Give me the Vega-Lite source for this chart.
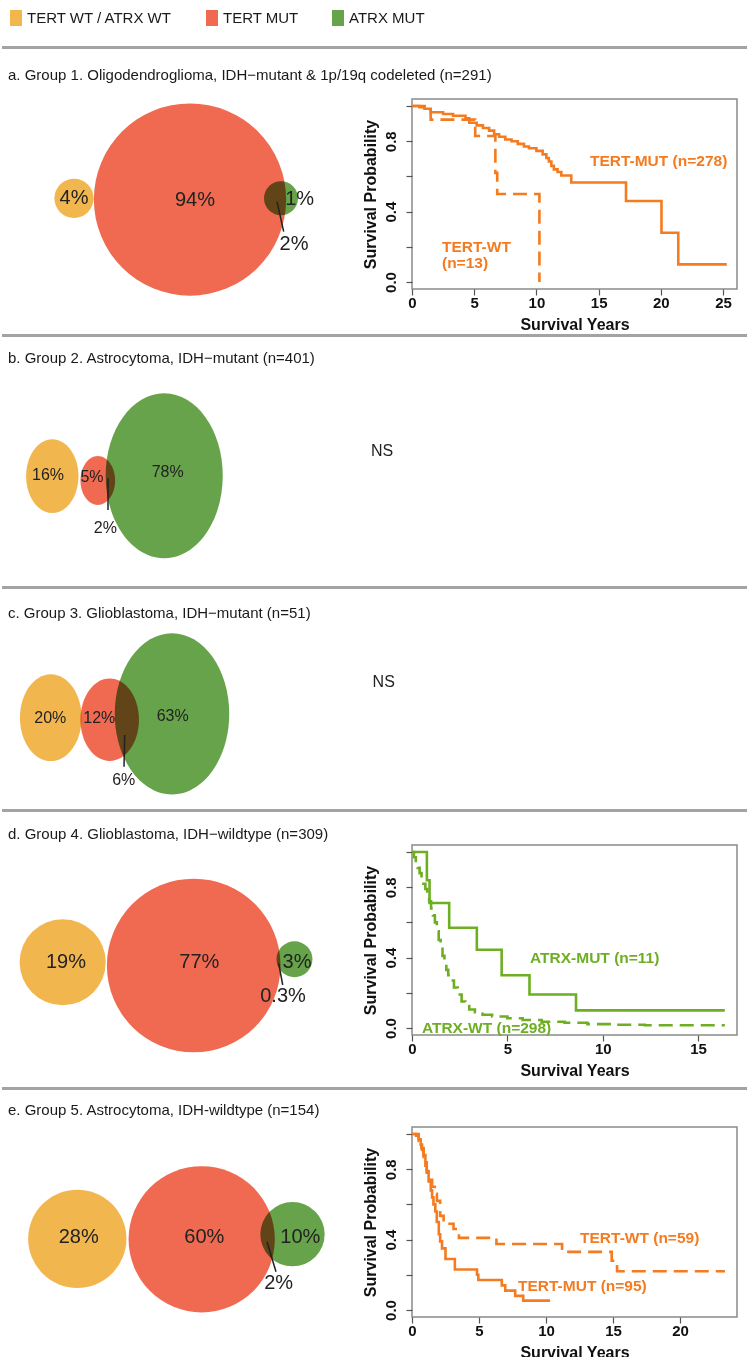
{
  "$schema": "https://vega.github.io/schema/vega-lite/v6.json",
  "padding": 0,
  "background": "white",
  "spacing": 0,
  "align": "each",
  "resolve": {"scale": {"size": "independent"}},
  "config": {
    "view": {"stroke": null},
    "font": "Liberation Sans",
    "title": {"anchor": "start", "frame": "group", "baseline": "alphabetic", "font": "Liberation Sans", "fontSize": 15, "fontWeight": "normal", "color": "#1a1a1a", "dx": 6},
    "legend": {"orient": "none", "legendX": 6, "legendY": 10, "direction": "horizontal", "padding": 0, "symbolSize": 256, "symbolStrokeWidth": 0, "symbolOpacity": 1, "labelFont": "Liberation Sans", "labelFontSize": 15, "labelColor": "#1a1a1a", "labelOffset": 3, "columnPadding": 31, "labelLimit": 400},
    "axis": {"domain": false, "grid": false, "tickColor": "#555555", "tickSize": 6, "tickWidth": 1.2, "labelFont": "Liberation Sans", "labelFontWeight": "bold", "labelFontSize": 15, "labelColor": "#111111", "titleFont": "Liberation Sans", "titleFontWeight": "bold", "titleFontSize": 16, "titleColor": "#111111"},
    "axisX": {"labelPadding": 0, "titlePadding": 6, "labelFlush": false, "labelOverlap": false},
    "axisY": {"labelAngle": -90, "labelAlign": "center", "labelBaseline": "bottom", "labelPadding": 8, "titlePadding": 4, "labelOverlap": false, "minExtent": 30, "maxExtent": 30}
  },
  "datasets": {
    "venn": [
      {"p": "a", "kind": "set", "set": "TERT WT / ATRX WT", "pct": 4, "x": 7.2, "y": 14.93},
      {"p": "a", "kind": "set", "set": "TERT MUT", "pct": 96, "x": 18.8, "y": 15.05},
      {"p": "a", "kind": "set", "set": "ATRX MUT", "pct": 3, "x": 27.9, "y": 14.93},
      {"p": "a", "kind": "label", "label": "4%", "x": 7.2, "y": 14.9},
      {"p": "a", "kind": "label", "label": "94%", "x": 19.3, "y": 15.1},
      {"p": "a", "kind": "label", "label": "1%", "x": 29.77, "y": 15.0},
      {"p": "a", "kind": "label", "label": "2%", "x": 29.2, "y": 19.5},
      {"p": "a", "kind": "leader", "x": 27.5, "y": 15.27, "x2": 28.17, "y2": 18.27},
      {"p": "b", "kind": "set", "set": "TERT WT / ATRX WT", "pct": 16, "x": 5.03, "y": 13.92},
      {"p": "b", "kind": "set", "set": "TERT MUT", "pct": 7, "x": 9.58, "y": 14.35},
      {"p": "b", "kind": "set", "set": "ATRX MUT", "pct": 80, "x": 16.22, "y": 13.88},
      {"p": "b", "kind": "label", "label": "16%", "x": 4.6, "y": 13.8},
      {"p": "b", "kind": "label", "label": "5%", "x": 9.0, "y": 13.97},
      {"p": "b", "kind": "label", "label": "78%", "x": 16.57, "y": 13.47},
      {"p": "b", "kind": "label", "label": "2%", "x": 10.33, "y": 19.13},
      {"p": "b", "kind": "label", "label": "NS", "x": 38.0, "y": 11.4},
      {"p": "b", "kind": "leader", "x": 10.6, "y": 14.13, "x2": 10.6, "y2": 17.3},
      {"p": "c", "kind": "set", "set": "TERT WT / ATRX WT", "pct": 20, "x": 4.88, "y": 12.87},
      {"p": "c", "kind": "set", "set": "TERT MUT", "pct": 18, "x": 10.77, "y": 13.07},
      {"p": "c", "kind": "set", "set": "ATRX MUT", "pct": 69, "x": 17.0, "y": 12.48},
      {"p": "c", "kind": "label", "label": "20%", "x": 4.83, "y": 12.93},
      {"p": "c", "kind": "label", "label": "12%", "x": 9.73, "y": 12.93},
      {"p": "c", "kind": "label", "label": "63%", "x": 17.07, "y": 12.7},
      {"p": "c", "kind": "label", "label": "6%", "x": 12.17, "y": 19.1},
      {"p": "c", "kind": "label", "label": "NS", "x": 38.17, "y": 9.27},
      {"p": "c", "kind": "leader", "x": 12.27, "y": 14.6, "x2": 12.2, "y2": 17.77},
      {"p": "d", "kind": "set", "set": "TERT WT / ATRX WT", "pct": 19, "x": 6.07, "y": 15.02},
      {"p": "d", "kind": "set", "set": "TERT MUT", "pct": 77.3, "x": 19.17, "y": 15.35},
      {"p": "d", "kind": "set", "set": "ATRX MUT", "pct": 3.3, "x": 29.25, "y": 14.72},
      {"p": "d", "kind": "label", "label": "19%", "x": 6.4, "y": 14.97},
      {"p": "d", "kind": "label", "label": "77%", "x": 19.73, "y": 14.97},
      {"p": "d", "kind": "label", "label": "3%", "x": 29.5, "y": 14.97},
      {"p": "d", "kind": "label", "label": "0.3%", "x": 28.1, "y": 18.4},
      {"p": "d", "kind": "leader", "x": 27.67, "y": 15.13, "x2": 28.07, "y2": 17.3},
      {"p": "e", "kind": "set", "set": "TERT WT / ATRX WT", "pct": 28, "x": 7.53, "y": 14.88},
      {"p": "e", "kind": "set", "set": "TERT MUT", "pct": 62, "x": 19.97, "y": 14.93},
      {"p": "e", "kind": "set", "set": "ATRX MUT", "pct": 12, "x": 29.05, "y": 14.42},
      {"p": "e", "kind": "label", "label": "28%", "x": 7.67, "y": 14.73},
      {"p": "e", "kind": "label", "label": "60%", "x": 20.23, "y": 14.73},
      {"p": "e", "kind": "label", "label": "10%", "x": 29.83, "y": 14.67},
      {"p": "e", "kind": "label", "label": "2%", "x": 27.67, "y": 19.33},
      {"p": "e", "kind": "leader", "x": 26.5, "y": 15.17, "x2": 27.4, "y2": 18.17}
    ],
    "km": [
      {"p": "a", "status": "MUT", "t": 0, "s": 1.0},
      {"p": "a", "status": "MUT", "t": 0.6, "s": 0.993},
      {"p": "a", "status": "MUT", "t": 1.0, "s": 0.985},
      {"p": "a", "status": "MUT", "t": 1.5, "s": 0.965},
      {"p": "a", "status": "MUT", "t": 2.5, "s": 0.955},
      {"p": "a", "status": "MUT", "t": 3.3, "s": 0.945},
      {"p": "a", "status": "MUT", "t": 4.3, "s": 0.93},
      {"p": "a", "status": "MUT", "t": 4.6, "s": 0.905},
      {"p": "a", "status": "MUT", "t": 5.2, "s": 0.89},
      {"p": "a", "status": "MUT", "t": 5.7, "s": 0.875},
      {"p": "a", "status": "MUT", "t": 6.2, "s": 0.86},
      {"p": "a", "status": "MUT", "t": 6.6, "s": 0.84},
      {"p": "a", "status": "MUT", "t": 7.0, "s": 0.825},
      {"p": "a", "status": "MUT", "t": 7.5, "s": 0.81},
      {"p": "a", "status": "MUT", "t": 8.0, "s": 0.8},
      {"p": "a", "status": "MUT", "t": 8.5, "s": 0.785},
      {"p": "a", "status": "MUT", "t": 9.0, "s": 0.77},
      {"p": "a", "status": "MUT", "t": 9.4, "s": 0.76},
      {"p": "a", "status": "MUT", "t": 10.0, "s": 0.745},
      {"p": "a", "status": "MUT", "t": 10.5, "s": 0.725},
      {"p": "a", "status": "MUT", "t": 10.8, "s": 0.705},
      {"p": "a", "status": "MUT", "t": 11.0, "s": 0.685},
      {"p": "a", "status": "MUT", "t": 11.2, "s": 0.66},
      {"p": "a", "status": "MUT", "t": 11.4, "s": 0.64},
      {"p": "a", "status": "MUT", "t": 11.7, "s": 0.625},
      {"p": "a", "status": "MUT", "t": 12.0, "s": 0.605},
      {"p": "a", "status": "MUT", "t": 12.8, "s": 0.565},
      {"p": "a", "status": "MUT", "t": 17.2, "s": 0.46},
      {"p": "a", "status": "MUT", "t": 20.05, "s": 0.28},
      {"p": "a", "status": "MUT", "t": 21.4, "s": 0.1},
      {"p": "a", "status": "MUT", "t": 25.3, "s": 0.1},
      {"p": "a", "status": "WT", "t": 0, "s": 1.0},
      {"p": "a", "status": "WT", "t": 1.5, "s": 0.923},
      {"p": "a", "status": "WT", "t": 5.08, "s": 0.83},
      {"p": "a", "status": "WT", "t": 6.7, "s": 0.62},
      {"p": "a", "status": "WT", "t": 6.85, "s": 0.5},
      {"p": "a", "status": "WT", "t": 10.24, "s": 0.0},
      {"p": "d", "status": "MUT", "t": 0, "s": 1.0},
      {"p": "d", "status": "MUT", "t": 0.78, "s": 0.84},
      {"p": "d", "status": "MUT", "t": 0.92, "s": 0.71},
      {"p": "d", "status": "MUT", "t": 1.95, "s": 0.57},
      {"p": "d", "status": "MUT", "t": 3.4, "s": 0.445},
      {"p": "d", "status": "MUT", "t": 4.7, "s": 0.3},
      {"p": "d", "status": "MUT", "t": 6.16, "s": 0.19},
      {"p": "d", "status": "MUT", "t": 8.6, "s": 0.1},
      {"p": "d", "status": "MUT", "t": 16.4, "s": 0.1},
      {"p": "d", "status": "WT", "t": 0, "s": 1.0},
      {"p": "d", "status": "WT", "t": 0.1, "s": 0.97},
      {"p": "d", "status": "WT", "t": 0.2, "s": 0.94},
      {"p": "d", "status": "WT", "t": 0.3, "s": 0.91},
      {"p": "d", "status": "WT", "t": 0.4, "s": 0.88},
      {"p": "d", "status": "WT", "t": 0.5, "s": 0.85},
      {"p": "d", "status": "WT", "t": 0.6, "s": 0.82},
      {"p": "d", "status": "WT", "t": 0.7, "s": 0.79},
      {"p": "d", "status": "WT", "t": 0.8, "s": 0.76},
      {"p": "d", "status": "WT", "t": 0.9, "s": 0.72},
      {"p": "d", "status": "WT", "t": 1.0, "s": 0.68},
      {"p": "d", "status": "WT", "t": 1.1, "s": 0.64},
      {"p": "d", "status": "WT", "t": 1.2, "s": 0.6},
      {"p": "d", "status": "WT", "t": 1.3, "s": 0.55},
      {"p": "d", "status": "WT", "t": 1.4, "s": 0.5},
      {"p": "d", "status": "WT", "t": 1.5, "s": 0.45},
      {"p": "d", "status": "WT", "t": 1.6, "s": 0.41},
      {"p": "d", "status": "WT", "t": 1.7, "s": 0.37},
      {"p": "d", "status": "WT", "t": 1.8, "s": 0.33},
      {"p": "d", "status": "WT", "t": 1.9, "s": 0.3},
      {"p": "d", "status": "WT", "t": 2.0, "s": 0.27},
      {"p": "d", "status": "WT", "t": 2.2, "s": 0.23},
      {"p": "d", "status": "WT", "t": 2.4, "s": 0.19},
      {"p": "d", "status": "WT", "t": 2.6, "s": 0.15},
      {"p": "d", "status": "WT", "t": 2.8, "s": 0.125},
      {"p": "d", "status": "WT", "t": 3.0, "s": 0.105},
      {"p": "d", "status": "WT", "t": 3.3, "s": 0.09},
      {"p": "d", "status": "WT", "t": 3.7, "s": 0.075},
      {"p": "d", "status": "WT", "t": 4.2, "s": 0.065},
      {"p": "d", "status": "WT", "t": 5.0, "s": 0.055},
      {"p": "d", "status": "WT", "t": 5.8, "s": 0.045},
      {"p": "d", "status": "WT", "t": 6.8, "s": 0.035},
      {"p": "d", "status": "WT", "t": 8.0, "s": 0.03},
      {"p": "d", "status": "WT", "t": 9.2, "s": 0.022},
      {"p": "d", "status": "WT", "t": 10.5, "s": 0.018},
      {"p": "d", "status": "WT", "t": 12.2, "s": 0.015},
      {"p": "d", "status": "WT", "t": 16.4, "s": 0.015},
      {"p": "e", "status": "MUT", "t": 0, "s": 1.0},
      {"p": "e", "status": "MUT", "t": 0.3, "s": 0.99},
      {"p": "e", "status": "MUT", "t": 0.5, "s": 0.97},
      {"p": "e", "status": "MUT", "t": 0.65, "s": 0.94},
      {"p": "e", "status": "MUT", "t": 0.75, "s": 0.91},
      {"p": "e", "status": "MUT", "t": 0.85, "s": 0.88},
      {"p": "e", "status": "MUT", "t": 1.0, "s": 0.84},
      {"p": "e", "status": "MUT", "t": 1.1, "s": 0.79},
      {"p": "e", "status": "MUT", "t": 1.24, "s": 0.73},
      {"p": "e", "status": "MUT", "t": 1.4, "s": 0.68},
      {"p": "e", "status": "MUT", "t": 1.5, "s": 0.64},
      {"p": "e", "status": "MUT", "t": 1.6, "s": 0.6},
      {"p": "e", "status": "MUT", "t": 1.74, "s": 0.56},
      {"p": "e", "status": "MUT", "t": 1.85, "s": 0.5},
      {"p": "e", "status": "MUT", "t": 2.0, "s": 0.43},
      {"p": "e", "status": "MUT", "t": 2.1, "s": 0.39},
      {"p": "e", "status": "MUT", "t": 2.24, "s": 0.35},
      {"p": "e", "status": "MUT", "t": 2.5, "s": 0.29},
      {"p": "e", "status": "MUT", "t": 3.2, "s": 0.23},
      {"p": "e", "status": "MUT", "t": 4.85, "s": 0.2},
      {"p": "e", "status": "MUT", "t": 4.95, "s": 0.17},
      {"p": "e", "status": "MUT", "t": 6.7, "s": 0.14},
      {"p": "e", "status": "MUT", "t": 6.96, "s": 0.11},
      {"p": "e", "status": "MUT", "t": 7.7, "s": 0.08},
      {"p": "e", "status": "MUT", "t": 8.3, "s": 0.053},
      {"p": "e", "status": "MUT", "t": 10.3, "s": 0.053},
      {"p": "e", "status": "WT", "t": 0, "s": 1.0},
      {"p": "e", "status": "WT", "t": 0.5, "s": 0.96},
      {"p": "e", "status": "WT", "t": 0.7, "s": 0.92},
      {"p": "e", "status": "WT", "t": 0.87, "s": 0.87},
      {"p": "e", "status": "WT", "t": 1.0, "s": 0.82},
      {"p": "e", "status": "WT", "t": 1.1, "s": 0.78},
      {"p": "e", "status": "WT", "t": 1.3, "s": 0.74},
      {"p": "e", "status": "WT", "t": 1.5, "s": 0.7},
      {"p": "e", "status": "WT", "t": 1.7, "s": 0.66},
      {"p": "e", "status": "WT", "t": 1.86, "s": 0.62},
      {"p": "e", "status": "WT", "t": 2.1, "s": 0.535},
      {"p": "e", "status": "WT", "t": 2.36, "s": 0.49},
      {"p": "e", "status": "WT", "t": 3.1, "s": 0.46},
      {"p": "e", "status": "WT", "t": 3.5, "s": 0.41},
      {"p": "e", "status": "WT", "t": 6.3, "s": 0.375},
      {"p": "e", "status": "WT", "t": 11.2, "s": 0.33},
      {"p": "e", "status": "WT", "t": 14.9, "s": 0.28},
      {"p": "e", "status": "WT", "t": 15.3, "s": 0.22},
      {"p": "e", "status": "WT", "t": 23.35, "s": 0.22}
    ],
    "kmlab": [
      {"p": "a", "label": "TERT-MUT (n=278)", "t": 14.3, "s": 0.69},
      {"p": "a", "label": "TERT-WT", "t": 2.41, "s": 0.197},
      {"p": "a", "label": "(n=13)", "t": 2.41, "s": 0.106},
      {"p": "d", "label": "ATRX-MUT (n=11)", "t": 6.19, "s": 0.396},
      {"p": "d", "label": "ATRX-WT (n=298)", "t": 0.52, "s": -0.002},
      {"p": "e", "label": "TERT-WT (n=59)", "t": 12.54, "s": 0.41},
      {"p": "e", "label": "TERT-MUT (n=95)", "t": 7.91, "s": 0.138}
    ]
  },
  "vconcat": [
    {"width": 747, "height": 46, "data": {"values": []}, "mark": "point"},
    {"width": 747, "height": 3, "data": {"values": [{"v": 0}]}, "mark": {"type": "rule", "color": "#a3a3a3", "strokeWidth": 3}, "encoding": {"y": {"field": "v", "type": "quantitative", "scale": {"domain": [-1, 1]}, "axis": null}}},
    {
      "title": {"text": "a. Group 1. Oligodendroglioma, IDH−mutant & 1p/19q codeleted (n=291)", "offset": -33.5},
      "hconcat": [
        {
          "width": 359, "height": 285,
          "data": {"name": "venn"},
          "transform": [{"filter": "datum.p == 'a'"}],
          "encoding": {
            "x": {"field": "x", "type": "quantitative", "scale": {"domain": [0, 35.9], "nice": false}, "axis": null},
            "y": {"field": "y", "type": "quantitative", "scale": {"domain": [0, 28.5], "nice": false, "reverse": true}, "axis": null}
          },
          "layer": [
            {"transform": [{"filter": "datum.kind == 'set'"}], "mark": {"type": "point", "filled": true, "opacity": 1, "shape": "circle", "blend": "multiply", "strokeWidth": 0},
             "encoding": {
               "size": {"field": "pct", "type": "quantitative", "scale": {"type": "linear", "domain": [0, 100], "range": [0, 38500], "zero": true}, "legend": null},
               "color": {"field": "set", "type": "nominal", "scale": {"domain": ["TERT WT / ATRX WT", "TERT MUT", "ATRX MUT"], "range": ["#F2B64F", "#EF6A51", "#67A34A"]}, "legend": {"title": null, "symbolType": "M-0.75,-1H0.75V1H-0.75Z"}}
             }},
            {"transform": [{"filter": "datum.kind == 'leader'"}], "mark": {"type": "rule", "color": "#222222", "strokeWidth": 1.5}, "encoding": {"x2": {"field": "x2"}, "y2": {"field": "y2"}}},
            {"transform": [{"filter": "datum.kind == 'label'"}], "mark": {"type": "text", "font": "Liberation Sans", "fontSize": 20, "color": "#222222", "align": "center", "baseline": "middle"}, "encoding": {"text": {"field": "label"}}}
          ]
        },
        {
          "vconcat": [
            {"width": 325, "height": 49, "data": {"values": []}, "mark": "point"},
            {
              "width": 325, "height": 190,
              "view": {"stroke": "#8a8a8a", "strokeWidth": 1.5},
              "encoding": {
                "x": {"field": "t", "type": "quantitative", "scale": {"domain": [0, 26.12], "nice": false, "zero": false}, "axis": {"title": "Survival Years", "values": [0, 5, 10, 15, 20, 25]}},
                "y": {"field": "s", "type": "quantitative", "scale": {"domain": [-0.04, 1.04], "nice": false, "zero": false}, "axis": {"title": "Survival Probability", "values": [0, 0.2, 0.4, 0.6, 0.8, 1], "labelExpr": "round(datum.value*10) % 4 == 0 ? format(datum.value, '.1f') : ''"}}
              },
              "layer": [
                {"data": {"name": "km"}, "transform": [{"filter": "datum.p == 'a'"}], "mark": {"type": "line", "interpolate": "step-after", "color": "#F47B20", "strokeWidth": 2.6, "clip": true},
                 "encoding": {"strokeDash": {"field": "status", "type": "nominal", "scale": {"domain": ["MUT", "WT"], "range": [[1, 0], [14, 7]]}, "legend": null}}},
                {"data": {"name": "kmlab"}, "transform": [{"filter": "datum.p == 'a'"}], "mark": {"type": "text", "align": "left", "baseline": "middle", "font": "Liberation Sans", "fontWeight": "bold", "fontSize": 15.5, "color": "#F47B20"}, "encoding": {"text": {"field": "label"}}}
              ]
            }
          ],
          "spacing": 0, "align": "each"
        }
      ],
      "spacing": 0, "align": "each"
    },
    {"width": 747, "height": 3, "data": {"values": [{"v": 0}]}, "mark": {"type": "rule", "color": "#a3a3a3", "strokeWidth": 3}, "encoding": {"y": {"field": "v", "type": "quantitative", "scale": {"domain": [-1, 1]}, "axis": null}}},
    {
      "width": 412, "height": 249,
      "title": {"text": "b. Group 2. Astrocytoma, IDH−mutant (n=401)", "offset": -28.7},
      "data": {"name": "venn"},
      "transform": [{"filter": "datum.p == 'b'"}],
      "encoding": {
        "x": {"field": "x", "type": "quantitative", "scale": {"domain": [0, 41.2], "nice": false}, "axis": null},
        "y": {"field": "y", "type": "quantitative", "scale": {"domain": [0, 24.9], "nice": false, "reverse": true}, "axis": null}
      },
      "layer": [
        {"transform": [{"filter": "datum.kind == 'set'"}], "mark": {"type": "point", "filled": true, "opacity": 1, "shape": "M-0.71,0A0.71,1 0 1,1 0.71,0A0.71,1 0 1,1 -0.71,0Z", "blend": "multiply", "strokeWidth": 0},
         "encoding": {
           "size": {"field": "pct", "type": "quantitative", "scale": {"type": "linear", "domain": [0, 100], "range": [0, 34000], "zero": true}, "legend": null},
           "color": {"field": "set", "type": "nominal", "scale": {"domain": ["TERT WT / ATRX WT", "TERT MUT", "ATRX MUT"], "range": ["#F2B64F", "#EF6A51", "#67A34A"]}, "legend": {"title": null, "symbolType": "M-0.75,-1H0.75V1H-0.75Z"}}
         }},
        {"transform": [{"filter": "datum.kind == 'leader'"}], "mark": {"type": "rule", "color": "#222222", "strokeWidth": 1.5}, "encoding": {"x2": {"field": "x2"}, "y2": {"field": "y2"}}},
        {"transform": [{"filter": "datum.kind == 'label'"}], "mark": {"type": "text", "font": "Liberation Sans", "fontSize": 16, "color": "#222222", "align": "center", "baseline": "middle"}, "encoding": {"text": {"field": "label"}}}
      ]
    },
    {"width": 747, "height": 3, "data": {"values": [{"v": 0}]}, "mark": {"type": "rule", "color": "#a3a3a3", "strokeWidth": 3}, "encoding": {"y": {"field": "v", "type": "quantitative", "scale": {"domain": [-1, 1]}, "axis": null}}},
    {
      "width": 412, "height": 220,
      "title": {"text": "c. Group 3. Glioblastoma, IDH−mutant (n=51)", "offset": -31.9},
      "data": {"name": "venn"},
      "transform": [{"filter": "datum.p == 'c'"}],
      "encoding": {
        "x": {"field": "x", "type": "quantitative", "scale": {"domain": [0, 41.2], "nice": false}, "axis": null},
        "y": {"field": "y", "type": "quantitative", "scale": {"domain": [0, 22.0], "nice": false, "reverse": true}, "axis": null}
      },
      "layer": [
        {"transform": [{"filter": "datum.kind == 'set'"}], "mark": {"type": "point", "filled": true, "opacity": 1, "shape": "M-0.71,0A0.71,1 0 1,1 0.71,0A0.71,1 0 1,1 -0.71,0Z", "blend": "multiply", "strokeWidth": 0},
         "encoding": {
           "size": {"field": "pct", "type": "quantitative", "scale": {"type": "linear", "domain": [0, 100], "range": [0, 37700], "zero": true}, "legend": null},
           "color": {"field": "set", "type": "nominal", "scale": {"domain": ["TERT WT / ATRX WT", "TERT MUT", "ATRX MUT"], "range": ["#F2B64F", "#EF6A51", "#67A34A"]}, "legend": {"title": null, "symbolType": "M-0.75,-1H0.75V1H-0.75Z"}}
         }},
        {"transform": [{"filter": "datum.kind == 'leader'"}], "mark": {"type": "rule", "color": "#222222", "strokeWidth": 1.5}, "encoding": {"x2": {"field": "x2"}, "y2": {"field": "y2"}}},
        {"transform": [{"filter": "datum.kind == 'label'"}], "mark": {"type": "text", "font": "Liberation Sans", "fontSize": 16, "color": "#222222", "align": "center", "baseline": "middle"}, "encoding": {"text": {"field": "label"}}}
      ]
    },
    {"width": 747, "height": 3, "data": {"values": [{"v": 0}]}, "mark": {"type": "rule", "color": "#a3a3a3", "strokeWidth": 3}, "encoding": {"y": {"field": "v", "type": "quantitative", "scale": {"domain": [-1, 1]}, "axis": null}}},
    {
      "hconcat": [
        {
          "width": 359, "height": 275,
          "title": {"text": "d. Group 4. Glioblastoma, IDH−wildtype (n=309)", "offset": -30.2},
          "data": {"name": "venn"},
          "transform": [{"filter": "datum.p == 'd'"}],
          "encoding": {
            "x": {"field": "x", "type": "quantitative", "scale": {"domain": [0, 35.9], "nice": false}, "axis": null},
            "y": {"field": "y", "type": "quantitative", "scale": {"domain": [0, 27.5], "nice": false, "reverse": true}, "axis": null}
          },
          "layer": [
            {"transform": [{"filter": "datum.kind == 'set'"}], "mark": {"type": "point", "filled": true, "opacity": 1, "shape": "circle", "blend": "multiply", "strokeWidth": 0},
             "encoding": {
               "size": {"field": "pct", "type": "quantitative", "scale": {"type": "linear", "domain": [0, 100], "range": [0, 39000], "zero": true}, "legend": null},
               "color": {"field": "set", "type": "nominal", "scale": {"domain": ["TERT WT / ATRX WT", "TERT MUT", "ATRX MUT"], "range": ["#F2B64F", "#EF6A51", "#67A34A"]}, "legend": {"title": null, "symbolType": "M-0.75,-1H0.75V1H-0.75Z"}}
             }},
            {"transform": [{"filter": "datum.kind == 'leader'"}], "mark": {"type": "rule", "color": "#222222", "strokeWidth": 1.5}, "encoding": {"x2": {"field": "x2"}, "y2": {"field": "y2"}}},
            {"transform": [{"filter": "datum.kind == 'label'"}], "mark": {"type": "text", "font": "Liberation Sans", "fontSize": 20, "color": "#222222", "align": "center", "baseline": "middle"}, "encoding": {"text": {"field": "label"}}}
          ]
        },
        {
          "vconcat": [
            {"width": 325, "height": 32, "data": {"values": []}, "mark": "point"},
            {
              "width": 325, "height": 190,
              "view": {"stroke": "#8a8a8a", "strokeWidth": 1.5},
              "encoding": {
                "x": {"field": "t", "type": "quantitative", "scale": {"domain": [0, 17.04], "nice": false, "zero": false}, "axis": {"title": "Survival Years", "values": [0, 5, 10, 15]}},
                "y": {"field": "s", "type": "quantitative", "scale": {"domain": [-0.04, 1.04], "nice": false, "zero": false}, "axis": {"title": "Survival Probability", "values": [0, 0.2, 0.4, 0.6, 0.8, 1], "labelExpr": "round(datum.value*10) % 4 == 0 ? format(datum.value, '.1f') : ''"}}
              },
              "layer": [
                {"data": {"name": "km"}, "transform": [{"filter": "datum.p == 'd'"}], "mark": {"type": "line", "interpolate": "step-after", "color": "#6DAE23", "strokeWidth": 2.6, "clip": true},
                 "encoding": {"strokeDash": {"field": "status", "type": "nominal", "scale": {"domain": ["MUT", "WT"], "range": [[1, 0], [14, 7]]}, "legend": null}}},
                {"data": {"name": "kmlab"}, "transform": [{"filter": "datum.p == 'd'"}], "mark": {"type": "text", "align": "left", "baseline": "middle", "font": "Liberation Sans", "fontWeight": "bold", "fontSize": 15.5, "color": "#6DAE23"}, "encoding": {"text": {"field": "label"}}}
              ]
            }
          ],
          "spacing": 0, "align": "each"
        }
      ],
      "spacing": 0, "align": "each"
    },
    {"width": 747, "height": 3, "data": {"values": [{"v": 0}]}, "mark": {"type": "rule", "color": "#a3a3a3", "strokeWidth": 3}, "encoding": {"y": {"field": "v", "type": "quantitative", "scale": {"domain": [-1, 1]}, "axis": null}}},
    {
      "hconcat": [
        {
          "width": 359, "height": 267,
          "title": {"text": "e. Group 5. Astrocytoma, IDH-wildtype (n=154)", "offset": -28.2},
          "data": {"name": "venn"},
          "transform": [{"filter": "datum.p == 'e'"}],
          "encoding": {
            "x": {"field": "x", "type": "quantitative", "scale": {"domain": [0, 35.9], "nice": false}, "axis": null},
            "y": {"field": "y", "type": "quantitative", "scale": {"domain": [0, 26.7], "nice": false, "reverse": true}, "axis": null}
          },
          "layer": [
            {"transform": [{"filter": "datum.kind == 'set'"}], "mark": {"type": "point", "filled": true, "opacity": 1, "shape": "circle", "blend": "multiply", "strokeWidth": 0},
             "encoding": {
               "size": {"field": "pct", "type": "quantitative", "scale": {"type": "linear", "domain": [0, 100], "range": [0, 34500], "zero": true}, "legend": null},
               "color": {"field": "set", "type": "nominal", "scale": {"domain": ["TERT WT / ATRX WT", "TERT MUT", "ATRX MUT"], "range": ["#F2B64F", "#EF6A51", "#67A34A"]}, "legend": {"title": null, "symbolType": "M-0.75,-1H0.75V1H-0.75Z"}}
             }},
            {"transform": [{"filter": "datum.kind == 'leader'"}], "mark": {"type": "rule", "color": "#222222", "strokeWidth": 1.5}, "encoding": {"x2": {"field": "x2"}, "y2": {"field": "y2"}}},
            {"transform": [{"filter": "datum.kind == 'label'"}], "mark": {"type": "text", "font": "Liberation Sans", "fontSize": 20, "color": "#222222", "align": "center", "baseline": "middle"}, "encoding": {"text": {"field": "label"}}}
          ]
        },
        {
          "vconcat": [
            {"width": 325, "height": 36, "data": {"values": []}, "mark": "point"},
            {
              "width": 325, "height": 190,
              "view": {"stroke": "#8a8a8a", "strokeWidth": 1.5},
              "encoding": {
                "x": {"field": "t", "type": "quantitative", "scale": {"domain": [0, 24.25], "nice": false, "zero": false}, "axis": {"title": "Survival Years", "values": [0, 5, 10, 15, 20]}},
                "y": {"field": "s", "type": "quantitative", "scale": {"domain": [-0.04, 1.04], "nice": false, "zero": false}, "axis": {"title": "Survival Probability", "values": [0, 0.2, 0.4, 0.6, 0.8, 1], "labelExpr": "round(datum.value*10) % 4 == 0 ? format(datum.value, '.1f') : ''"}}
              },
              "layer": [
                {"data": {"name": "km"}, "transform": [{"filter": "datum.p == 'e'"}], "mark": {"type": "line", "interpolate": "step-after", "color": "#F47B20", "strokeWidth": 2.6, "clip": true},
                 "encoding": {"strokeDash": {"field": "status", "type": "nominal", "scale": {"domain": ["MUT", "WT"], "range": [[1, 0], [14, 7]]}, "legend": null}}},
                {"data": {"name": "kmlab"}, "transform": [{"filter": "datum.p == 'e'"}], "mark": {"type": "text", "align": "left", "baseline": "middle", "font": "Liberation Sans", "fontWeight": "bold", "fontSize": 15.5, "color": "#F47B20"}, "encoding": {"text": {"field": "label"}}}
              ]
            }
          ],
          "spacing": 0, "align": "each"
        }
      ],
      "spacing": 0, "align": "each"
    }
  ]
}
